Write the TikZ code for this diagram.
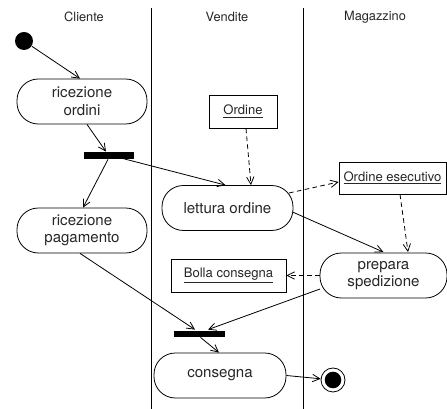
\documentclass[tikz,border=0pt]{standalone}
\usepackage{fontspec}
\setmainfont{TeX Gyre Heros}
\usetikzlibrary{arrows.meta,calc}
\begin{document}
\begin{tikzpicture}[x=0.75pt,y=-0.75pt,
  line width=0.6pt,
  every node/.style={font=\fontsize{11.3}{13.2}\selectfont, text=black!85},
  activity/.style={draw, rounded corners=16pt, minimum width=130*0.75pt,
    minimum height=45*0.75pt, align=center, inner sep=2pt},
  objbox/.style={draw, rectangle, minimum height=33*0.75pt,
    font=\fontsize{9.8}{12}\selectfont, inner sep=3pt},
  bar/.style={fill=black, draw=none, rectangle, inner sep=0pt},
  lanehead/.style={font=\fontsize{9.6}{12}\selectfont},
  flow/.style={-{Straight Barb[length=5.5pt,width=5.5pt]}},
  objflow/.style={flow, dash pattern=on 3.5pt off 2.5pt}
]
\useasboundingbox (0,0) rectangle (447,409);

% swimlane separators and headers
\coordinate (l1t) at (151.5,8);  \coordinate (l1b) at (151.5,409);
\coordinate (l2t) at (303,8);    \coordinate (l2b) at (303,409);
\draw (l1t) -- (l1b);
\draw (l2t) -- (l2b);
\node[lanehead] (hcli) at (84,17) {Cliente};
\node[lanehead] (hven) at (227,17) {Vendite};
\node[lanehead] (hmag) at (375,17) {Magazzino};

% start and end states
\node[circle, fill=black, minimum size=18*0.75pt, inner sep=0pt] (start) at (24,41) {};
\node[circle, draw, minimum size=24*0.75pt, inner sep=0pt] (final) at (333,380) {};
\fill (final) circle (6.2pt);

% activities
\node[activity] (ro) at (82,101.5) {ricezione\\ordini};
\node[activity] (rp) at (82,230.5) {ricezione\\pagamento};
\node[activity, minimum width=131*0.75pt] (lo) at (227.5,208) {lettura ordine};
\node[activity, minimum width=127*0.75pt] (ps) at (383.5,275.5) {prepara\\spedizione};
\node[activity, minimum width=132*0.75pt] (con) at (220,375.5) {consegna};

% fork and join bars
\node[bar, minimum width=50*0.75pt, minimum height=7*0.75pt] (fork) at (109,155.5) {};
\node[bar, minimum width=51*0.75pt, minimum height=6*0.75pt] (join) at (199.5,334) {};

% objects
\node[objbox, minimum width=68*0.75pt] (ord) at (243,111.5) {\underline{Ordine}};
\node[objbox, minimum width=107*0.75pt, minimum height=32*0.75pt] (oe) at (392.5,178) {\underline{Ordine esecutivo}};
\node[objbox, minimum width=115*0.75pt] (bc) at (228.5,275.5) {\underline{Bolla consegna}};

% control flow
\draw[flow] (start) -- ($(ro.north)+(-2,0)$);
\draw[flow] ($(ro.south)+(5,0)$) -- ($(fork.north)+(-3,0)$);
\draw[flow] ($(fork.south)+(-1,0)$) -- ($(rp.north)+(1,0)$);
\draw[flow] ($(fork.center)+(6,1)$) -- ($(lo.north)+(-2,0)$);
\draw[flow] ($(lo.center)+(65,4)$) -- ($(ps.north)+(0,-0.5)$);
\draw[flow] ($(rp.south)+(-2,0)$) -- ($(join.north)+(-4.5,-1)$);
\draw[flow] ($(ps.center)+(-63.5,13.5)$) -- ($(join.north)+(8.5,-1)$);
\draw[flow] ($(join.south)+(1,0)$) -- ($(con.north)+(-1,0)$);
\draw[flow] (con.east) -- (final);

% object flow
\draw[objflow] ($(ord.south)+(3,0)$) -- ($(lo.north)+(23.5,0)$);
\draw[objflow] ($(lo.center)+(61.5,-15)$) -- ($(oe.west)+(0,4)$);
\draw[objflow] ($(oe.south)+(7.5,0)$) -- ($(ps.north)+(24.5,-0.5)$);
\draw[objflow] (ps.west) -- (bc.east);
\end{tikzpicture}
\end{document}
